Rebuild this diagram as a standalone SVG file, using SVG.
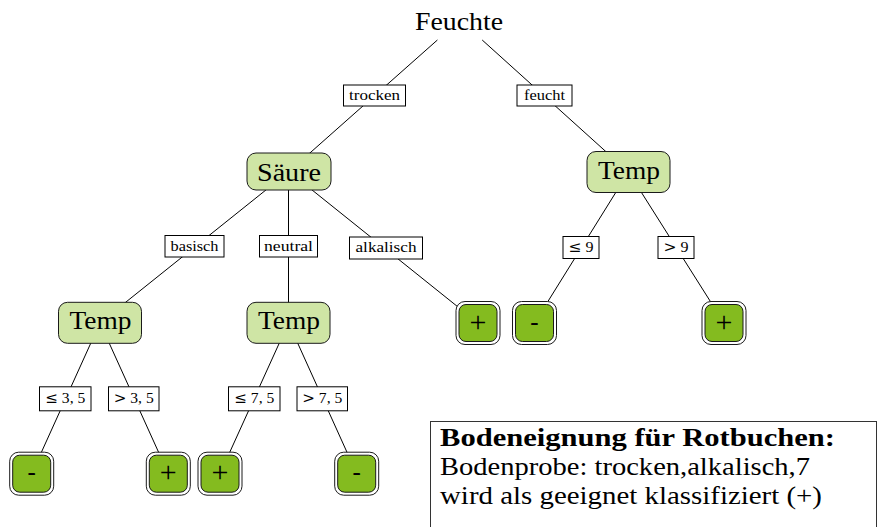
<svg xmlns="http://www.w3.org/2000/svg" xmlns:xlink="http://www.w3.org/1999/xlink" width="881" height="527" viewBox="0 0 881 527">
  <style>
    text { font-family: "Liberation Serif", "DejaVu Serif", serif; fill: #000; }
    .edge { stroke: #000; stroke-width: 1; fill: none; }
    .inner { fill: #cfe5a5; stroke: #1a1a1a; stroke-width: 1; }
    .lbl { fill: #fff; stroke: #000; stroke-width: 1; }
    .lt { font-size: 15.5px; text-anchor: middle; }
    .rel { font-family: "DejaVu Serif", serif; font-size: 15px; }
    .nt { font-size: 25px; text-anchor: middle; }
    .plus { font-size: 30px; text-anchor: middle; }
    .minus { font-size: 25px; text-anchor: middle; }
    .info { font-size: 26px; }
  </style>
  <defs>
    <!-- double-bordered leaf box, centred on the origin -->
    <g id="leafbox">
      <rect x="-22" y="-21.5" width="44" height="43" rx="9" fill="#fff" stroke="#1a1a1a" stroke-width="1"/>
      <rect x="-19" y="-18.5" width="38" height="37" rx="7" fill="#84bb1f" stroke="#1a1a1a" stroke-width="1"/>
    </g>
  </defs>

  <!-- connectors (drawn centre to centre, nodes cover the ends) -->
  <g id="connectors">
    <line class="edge" x1="437.4" y1="40" x2="289" y2="171.5"/>
    <line class="edge" x1="482.2" y1="40" x2="628.5" y2="172"/>
    <line class="edge" x1="289" y1="171.5" x2="100" y2="322.8"/>
    <line class="edge" x1="288.5" y1="171.5" x2="288.5" y2="322.8"/>
    <line class="edge" x1="289" y1="171.5" x2="478" y2="323"/>
    <line class="edge" x1="628.5" y1="172" x2="534.5" y2="323"/>
    <line class="edge" x1="628.5" y1="172" x2="724" y2="323"/>
    <line class="edge" x1="100" y1="322.8" x2="31.7" y2="473.7"/>
    <line class="edge" x1="100" y1="322.8" x2="168.3" y2="473.7"/>
    <line class="edge" x1="288.5" y1="322.8" x2="220" y2="473.7"/>
    <line class="edge" x1="288.5" y1="322.8" x2="356.7" y2="473.7"/>
  </g>

  <!-- edge labels -->
  <g id="edge-labels">
    <g id="lbl-trocken"><rect class="lbl" x="343.5" y="85" width="62" height="21"/><text class="lt" x="374.5" y="100" textLength="51" lengthAdjust="spacingAndGlyphs">trocken</text></g>
    <g id="lbl-feucht"><rect class="lbl" x="517" y="85" width="55" height="21"/><text class="lt" x="544.5" y="100" textLength="41" lengthAdjust="spacingAndGlyphs">feucht</text></g>
    <g id="lbl-basisch"><rect class="lbl" x="165" y="235.5" width="59" height="21.5"/><text class="lt" x="194.5" y="250.5" textLength="48" lengthAdjust="spacingAndGlyphs">basisch</text></g>
    <g id="lbl-neutral"><rect class="lbl" x="259.5" y="235.5" width="58" height="21.5"/><text class="lt" x="288.5" y="250.5" textLength="49" lengthAdjust="spacingAndGlyphs">neutral</text></g>
    <g id="lbl-alkalisch"><rect class="lbl" x="349.5" y="237" width="73" height="22" /><text class="lt" x="386" y="252" textLength="61" lengthAdjust="spacingAndGlyphs">alkalisch</text></g>
    <g id="lbl-le9"><rect class="lbl" x="563" y="236.5" width="36" height="22"/><text class="lt" x="581" y="252" textLength="25" lengthAdjust="spacingAndGlyphs"><tspan class="rel">≤</tspan> 9</text></g>
    <g id="lbl-gt9"><rect class="lbl" x="658" y="236.5" width="36" height="22"/><text class="lt" x="676" y="252" textLength="25" lengthAdjust="spacingAndGlyphs"><tspan class="rel">&gt;</tspan> 9</text></g>
    <g id="lbl-le35"><rect class="lbl" x="39.5" y="386.8" width="51.5" height="24"/><text class="lt" x="65.3" y="403" textLength="40" lengthAdjust="spacingAndGlyphs"><tspan class="rel">≤</tspan> 3, 5</text></g>
    <g id="lbl-gt35"><rect class="lbl" x="108.5" y="386.8" width="50.5" height="24"/><text class="lt" x="133.7" y="403" textLength="40" lengthAdjust="spacingAndGlyphs"><tspan class="rel">&gt;</tspan> 3, 5</text></g>
    <g id="lbl-le75"><rect class="lbl" x="228.5" y="386.8" width="51.5" height="24"/><text class="lt" x="254.3" y="403" textLength="40" lengthAdjust="spacingAndGlyphs"><tspan class="rel">≤</tspan> 7, 5</text></g>
    <g id="lbl-gt75"><rect class="lbl" x="297" y="386.8" width="50.5" height="24"/><text class="lt" x="322.3" y="403" textLength="40" lengthAdjust="spacingAndGlyphs"><tspan class="rel">&gt;</tspan> 7, 5</text></g>
  </g>

  <!-- root -->
  <g id="node-feuchte">
    <text class="nt" x="459" y="29.5" textLength="88" lengthAdjust="spacingAndGlyphs">Feuchte</text>
  </g>

  <!-- decision nodes -->
  <g id="node-saeure">
    <rect class="inner" x="247" y="153" width="84" height="37" rx="9"/>
    <text class="nt" x="289" y="180.5" textLength="64" lengthAdjust="spacingAndGlyphs">Säure</text>
  </g>
  <g id="node-temp-right">
    <rect class="inner" x="587" y="151.5" width="83" height="41" rx="9"/>
    <text class="nt" x="629" y="178.5" textLength="62" lengthAdjust="spacingAndGlyphs">Temp</text>
  </g>
  <g id="node-temp-left">
    <rect class="inner" x="58.5" y="302.3" width="83" height="41" rx="9"/>
    <text class="nt" x="100.5" y="329.3" textLength="62" lengthAdjust="spacingAndGlyphs">Temp</text>
  </g>
  <g id="node-temp-mid">
    <rect class="inner" x="247" y="302.3" width="83" height="41" rx="9"/>
    <text class="nt" x="289" y="329.3" textLength="62" lengthAdjust="spacingAndGlyphs">Temp</text>
  </g>

  <!-- leaves -->
  <g id="leaf-alkalisch"><use xlink:href="#leafbox" x="478" y="323"/><text class="plus" x="478" y="331.5">+</text></g>
  <g id="leaf-le9"><use xlink:href="#leafbox" x="534.5" y="323"/><text class="minus" x="534.5" y="329.5">-</text></g>
  <g id="leaf-gt9"><use xlink:href="#leafbox" x="724" y="323"/><text class="plus" x="724" y="331.5">+</text></g>
  <g id="leaf-le35"><use xlink:href="#leafbox" x="31.7" y="473.7"/><text class="minus" x="31.7" y="480.2">-</text></g>
  <g id="leaf-gt35"><use xlink:href="#leafbox" x="168.3" y="473.7"/><text class="plus" x="168.3" y="482.2">+</text></g>
  <g id="leaf-le75"><use xlink:href="#leafbox" x="220" y="473.7"/><text class="plus" x="220" y="482.2">+</text></g>
  <g id="leaf-gt75"><use xlink:href="#leafbox" x="356.7" y="473.7"/><text class="minus" x="356.7" y="480.2">-</text></g>

  <!-- result box -->
  <g id="info-box">
    <rect x="430.5" y="421.5" width="446" height="120" fill="#fff" stroke="#333" stroke-width="1"/>
    <text class="info" x="440" y="446" font-weight="bold" textLength="395" lengthAdjust="spacingAndGlyphs">Bodeneignung für Rotbuchen:</text>
    <text class="info" x="440" y="475" textLength="370" lengthAdjust="spacingAndGlyphs">Bodenprobe: trocken,alkalisch,7</text>
    <text class="info" x="440" y="504" textLength="382" lengthAdjust="spacingAndGlyphs">wird als geeignet klassifiziert (+)</text>
  </g>
</svg>
